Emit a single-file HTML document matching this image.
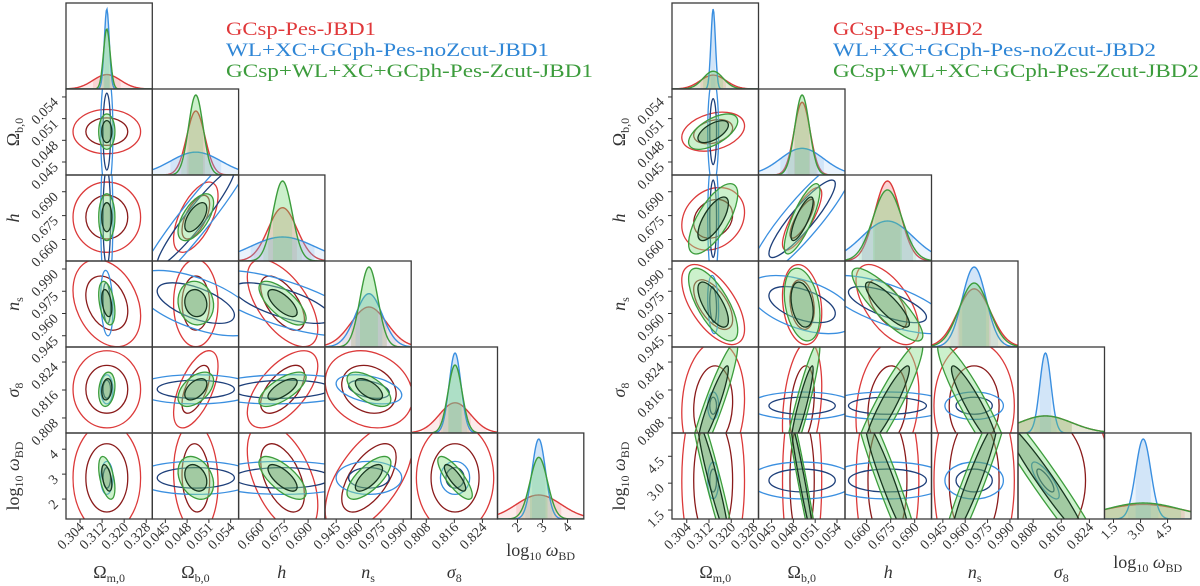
<!DOCTYPE html>
<html><head><meta charset="utf-8"><title>Triangle plots JBD</title>
<style>
html,body{margin:0;padding:0;background:#fff;}
svg{display:block;font-family:"Liberation Serif",serif;}
</style></head>
<body>
<svg id="fig" width="1200" height="586" viewBox="0 0 1200 586" xmlns="http://www.w3.org/2000/svg">
<defs id="defs"></defs>
<g id="plotL"></g>
<g id="plotR"></g>
<g>
<text x="226" y="35" font-size="19" fill="#e0383a" textLength="150" lengthAdjust="spacingAndGlyphs">GCsp-Pes-JBD1</text>
<text x="226" y="56" font-size="19" fill="#2f86d6" textLength="323" lengthAdjust="spacingAndGlyphs">WL+XC+GCph-Pes-noZcut-JBD1</text>
<text x="226" y="77" font-size="19" fill="#3c9c3c" textLength="367" lengthAdjust="spacingAndGlyphs">GCsp+WL+XC+GCph-Pes-Zcut-JBD1</text>
</g>
<g>
<text x="833" y="35" font-size="19" fill="#e0383a" textLength="150" lengthAdjust="spacingAndGlyphs">GCsp-Pes-JBD2</text>
<text x="833" y="56" font-size="19" fill="#2f86d6" textLength="323" lengthAdjust="spacingAndGlyphs">WL+XC+GCph-Pes-noZcut-JBD2</text>
<text x="833" y="77" font-size="19" fill="#3c9c3c" textLength="366" lengthAdjust="spacingAndGlyphs">GCsp+WL+XC+GCph-Pes-Zcut-JBD2</text>
</g>
</svg>
<script>
// ---- parameters & axis ranges ----
const paramNames = ['omega-m','omega-b','h','n-s','sigma-8','log-omega-bd'];
const loL = [0.2989, 0.0432, 0.6465, 0.9374, 0.8037, 1.2];
const hiL = [0.3302, 0.0551, 0.7005, 0.9954, 0.8283, 4.65];
const loR = [0.2987, 0.0432, 0.6465, 0.9374, 0.8037, 1.0];
const hiR = [0.3298, 0.0551, 0.7005, 0.9954, 0.8283, 5.8];
const tickOm = [0.304, 0.312, 0.320, 0.328];
const tickOb = [0.045, 0.048, 0.051, 0.054];
const tickH = [0.660, 0.675, 0.690];
const tickNs = [0.945, 0.960, 0.975, 0.990];
const tickS8 = [0.808, 0.816, 0.824];
const tickLwL = [2, 3, 4];
const tickLwR = [1.5, 3.0, 4.5];
const tickLabOm = ['0.304','0.312','0.320','0.328'];
const tickLabOb = ['0.045','0.048','0.051','0.054'];
const tickLabH = ['0.660','0.675','0.690'];
const tickLabNs = ['0.945','0.960','0.975','0.990'];
const tickLabS8 = ['0.808','0.816','0.824'];
const tickLabLwL = ['2','3','4'];
const tickLabLwR = ['1.5','3.0','4.5'];

// ---- left plot (JBD1) series ----
const meanL = [0.3137, 0.0492, 0.674, 0.967, 0.8162, 2.85];
const sigRedL = [0.0050, 0.00125, 0.009, 0.012, 0.0045, 0.9];
const sigBlueL = [0.0009, 0.0035, 0.02, 0.009, 0.0017, 0.27];
const sigGreenL = [0.0012, 0.001, 0.006, 0.006, 0.002, 0.35];
// pair order: (0,1)(0,2)(1,2)(0,3)(1,3)(2,3)(0,4)(1,4)(2,4)(3,4)(0,5)(1,5)(2,5)(3,5)(4,5)
const corrRedL = [0, 0, 0.6, -0.3, 0, -0.6, 0, 0.6, 0.6, -0.2, 0, -0.1, -0.5, 0.6, 0];
const corrBlueL = [0, 0, 0.95, -0.2, -0.6, -0.7, 0, 0, 0.1, -0.4, 0, 0, 0, 0, 0];
const corrGreenL = [0, 0, 0.6, -0.4, -0.1, -0.7, 0.2, 0.5, 0.7, -0.6, -0.5, -0.3, -0.7, 0.7, -0.8];

// ---- right plot (JBD2) series ----
const meanR = [0.3135, 0.0492, 0.673, 0.966, 0.8115, 3.15];
const sigRedR = [0.0046, 0.0011, 0.008, 0.011, 0.0075, 2.3];
const sigBlueR = [0.0008, 0.003, 0.016, 0.008, 0.0016, 0.42];
const sigGreenR = [0.0036, 0.001, 0.009, 0.01, 0.0075, 2.1];
const corrRedR = [0.3, 0.2, 0.8, -0.6, -0.2, -0.6, 0.1, 0.3, 0.2, 0, 0, 0, 0, 0, 0];
const corrBlueR = [0, 0, 0.9, -0.2, -0.5, -0.7, 0, 0, 0, 0, 0, 0, 0, 0, -0.8];
const corrGreenR = [0.6, 0.7, 0.8, -0.7, -0.3, -0.85, 0.92, 0.92, 0.92, -0.92, -0.95, -0.97, -0.95, 0.95, -0.97];

const NS = 'http://www.w3.org/2000/svg';
const pairs = [];
for (let j = 1; j < 6; j++) for (let i = 0; i < j; i++) pairs.push([i, j]);
function pairIndex(i, j) { return pairs.findIndex(p => p[0] === i && p[1] === j); }
function mk(tag, attrs, parent) {
  const e = document.createElementNS(NS, tag);
  for (const k in attrs) e.setAttribute(k, attrs[k]);
  parent.appendChild(e);
  return e;
}
const styles = {
  red: {outer: '#dc3a3a', inner: '#8a1b1b', fill: '#f08080'},
  blue: {outer: '#3a8fe0', inner: '#1d3f7a', fill: '#7fb6ee'},
  green: {outer: '#3c9c3c', inner: '#17351f', fill: '#6ad46a'}
};
const axisLabels = [
  'Ω<tspan font-size="12" dy="4">m,0</tspan>',
  'Ω<tspan font-size="12" dy="4">b,0</tspan>',
  '<tspan font-style="italic">h</tspan>',
  '<tspan font-style="italic">n</tspan><tspan font-size="12" dy="4">s</tspan>',
  '<tspan font-style="italic">σ</tspan><tspan font-size="12" dy="4">8</tspan>',
  'log<tspan font-size="12" dy="4">10</tspan><tspan dy="-4"> </tspan><tspan font-style="italic">ω</tspan><tspan font-size="12" dy="4">BD</tspan>'
];
let clipId = 0;

function drawPlot(g, side, x0, cw, y0, rh, lo, hi, mean, sigs, corrs, ticksets, ticklabs, lwLabelPos) {
  const X = (i, v) => x0 + i * cw + (v - lo[i]) / (hi[i] - lo[i]) * cw;
  const Y = (j, v) => y0 + (j + 1) * rh - (v - lo[j]) / (hi[j] - lo[j]) * rh;
  const defs = document.getElementById('defs');
  const names = ['red', 'blue', 'green'];
  for (let j = 0; j < 6; j++) {
    for (let i = 0; i <= j; i++) {
      const px = x0 + i * cw, py = y0 + j * rh;
      const cid = 'clip' + (clipId++);
      const cp = mk('clipPath', {id: cid}, defs);
      mk('rect', {x: px, y: py, width: cw, height: rh}, cp);
      const pg = mk('g', {'clip-path': 'url(#' + cid + ')'}, g);
      
      
      if (i === j) {
        const peaks = sigs.map(s => 1 / s[i]);
        const maxP = Math.max(...peaks);
        sigs.forEach((s, k) => {
          const st = styles[names[k]];
          const H = peaks[k] / maxP * rh * 0.93;
          const sx = s[i];
          const pts = [], band = [], band2 = [];
          for (let t = 0; t <= 120; t++) {
            const v = lo[i] + (hi[i] - lo[i]) * t / 120;
            const z = (v - mean[i]) / sx;
            const yy = py + rh - H * Math.exp(-0.5 * z * z);
            pts.push(X(i, v).toFixed(2) + ',' + yy.toFixed(2));
          }
          for (let t = 0; t <= 40; t++) {
            const z2 = -2 + 4 * t / 40, z1 = -1 + 2 * t / 40;
            band2.push(X(i, mean[i] + z2 * sx).toFixed(2) + ',' + (py + rh - H * Math.exp(-0.5 * z2 * z2)).toFixed(2));
            band.push(X(i, mean[i] + z1 * sx).toFixed(2) + ',' + (py + rh - H * Math.exp(-0.5 * z1 * z1)).toFixed(2));
          }
          const a = mk('polygon', {points: X(i, mean[i] - 2 * sx) + ',' + (py + rh) + ' ' + band2.join(' ') + ' ' + X(i, mean[i] + 2 * sx) + ',' + (py + rh), fill: st.fill, 'fill-opacity': 0.16}, pg);
          
          
          const b = mk('polygon', {points: X(i, mean[i] - sx) + ',' + (py + rh) + ' ' + band.join(' ') + ' ' + X(i, mean[i] + sx) + ',' + (py + rh), fill: st.fill, 'fill-opacity': 0.22}, pg);
          
          
          const c = mk('polyline', {points: pts.join(' '), fill: 'none', stroke: st.outer, 'stroke-width': 1.4}, pg);
          
          
        });
      } else {
        const pIdx = pairIndex(i, j);
        sigs.forEach((s, k) => {
          const st = styles[names[k]];
          const rho = corrs[k][pIdx];
          const sx = s[i] * cw / (hi[i] - lo[i]);
          const sy = s[j] * rh / (hi[j] - lo[j]);
          const a = sx * sx, c = sy * sy, b = -rho * sx * sy;
          const m = (a + c) / 2, d = Math.sqrt(((a - c) / 2) ** 2 + b * b);
          const l1 = m + d, l2 = Math.max(m - d, 1e-6);
          const ang = 0.5 * Math.atan2(2 * b, a - c) * 180 / Math.PI;
          const cx = X(i, mean[i]), cy = Y(j, mean[j]);
          [[2.45, 'outer'], [1.52, 'inner']].forEach(([kk, lvl]) => {
            const attrs = {cx: cx.toFixed(2), cy: cy.toFixed(2), rx: (kk * Math.sqrt(l1)).toFixed(2), ry: (kk * Math.sqrt(l2)).toFixed(2),
              transform: 'rotate(' + ang.toFixed(2) + ' ' + cx.toFixed(2) + ' ' + cy.toFixed(2) + ')',
              stroke: lvl === 'outer' ? st.outer : st.inner, 'stroke-width': 1.3};
            if (names[k] === 'green') {
              attrs.fill = lvl === 'outer' ? '#8ee08e' : '#2f5f2f';
              attrs['fill-opacity'] = lvl === 'outer' ? 0.45 : 0.27;
            } else attrs.fill = 'none';
            const e = mk('ellipse', attrs, pg);
            
            
          });
        });
      }
      const fr = mk('rect', {x: px, y: py, width: cw, height: rh, fill: 'none', stroke: '#3a3a3a', 'stroke-width': 1.3}, g);
      
      
    }
  }
  const by = y0 + 6 * rh;
  for (let i = 0; i < 6; i++) {
    ticksets[i].forEach((v, t) => {
      const tx = X(i, v);
      const tk = mk('line', {x1: tx, y1: by, x2: tx, y2: by + 4, stroke: '#333', 'stroke-width': 1}, g);
      
      
      const tl = mk('text', {x: tx + 5, y: by + 9, 'font-size': 14, 'text-anchor': 'end', fill: '#333', transform: 'rotate(-45 ' + (tx + 5) + ' ' + (by + 9) + ')'}, g);
      tl.textContent = ticklabs[i][t];
      
      
    });
    const lx = x0 + (i + 0.5) * cw;
    const isLw = i === 5;
    const al = mk('text', {x: lx, y: isLw ? lwLabelPos : 578, 'font-size': 18, 'text-anchor': 'middle', fill: '#333'}, g);
    al.innerHTML = axisLabels[i];
    
    
  }
  for (let j = 1; j < 6; j++) {
    ticksets[j].forEach((v, t) => {
      const ty = Y(j, v);
      const tk = mk('line', {x1: x0 - 4, y1: ty, x2: x0, y2: ty, stroke: '#333', 'stroke-width': 1}, g);
      
      
      const tl = mk('text', {x: x0 - 7, y: ty + 6, 'font-size': 14, 'text-anchor': 'end', fill: '#333', transform: 'rotate(-45 ' + (x0 - 7) + ' ' + (ty + 6) + ')'}, g);
      tl.textContent = ticklabs[j][t];
      
      
    });
    const cy = y0 + (j + 0.5) * rh;
    const lxp = x0 - 47;
    const al = mk('text', {x: lxp, y: cy, 'font-size': 18, 'text-anchor': 'middle', fill: '#333', transform: 'rotate(-90 ' + lxp + ' ' + cy + ')'}, g);
    al.innerHTML = axisLabels[j];
    
    
  }
}

drawPlot(document.getElementById('plotL'), 'left', 66, 86.3, 3, 86, loL, hiL, meanL,
  [sigRedL, sigBlueL, sigGreenL], [corrRedL, corrBlueL, corrGreenL],
  [tickOm, tickOb, tickH, tickNs, tickS8, tickLwL],
  [tickLabOm, tickLabOb, tickLabH, tickLabNs, tickLabS8, tickLabLwL], 556);
drawPlot(document.getElementById('plotR'), 'right', 672, 86.5, 3, 86, loR, hiR, meanR,
  [sigRedR, sigBlueR, sigGreenR], [corrRedR, corrBlueR, corrGreenR],
  [tickOm, tickOb, tickH, tickNs, tickS8, tickLwR],
  [tickLabOm, tickLabOb, tickLabH, tickLabNs, tickLabS8, tickLabLwR], 568);
</script>
</body></html>
